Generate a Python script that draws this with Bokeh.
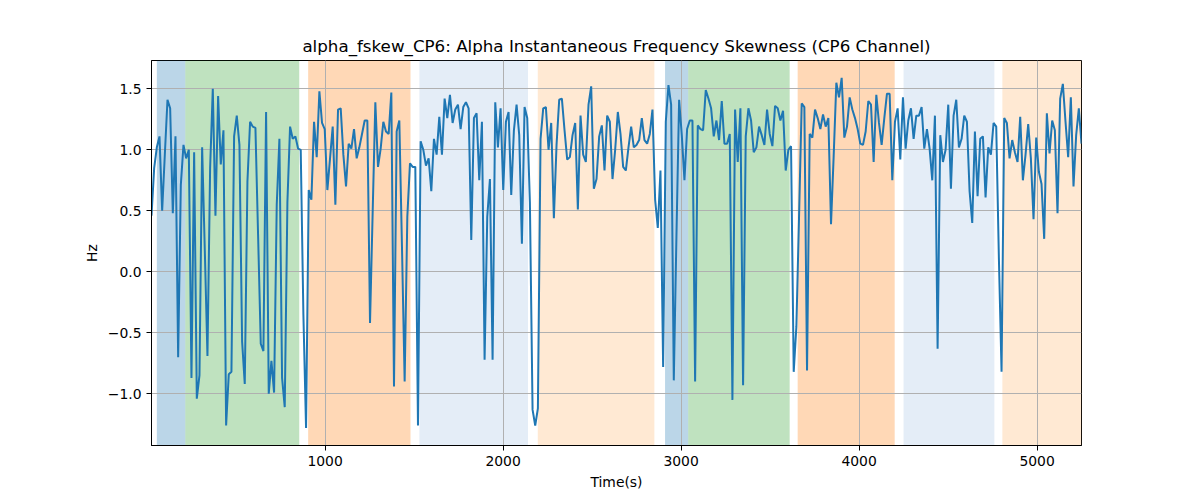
from bokeh.plotting import figure
from bokeh.models import BoxAnnotation, FixedTicker, Range1d, CustomJSTickFormatter
from bokeh.embed import file_html
from bokeh.resources import INLINE

# sampling of the time axis (seconds)
t_start = 25.0
t_step = 14.97

# alpha instantaneous frequency skewness, CP6 channel
fskew = [
    0.46, 0.85, 1.02, 1.11, 0.50, 0.96, 1.41, 1.34, 0.48, 1.11,
    -0.70, 0.71, 1.04, 0.93, 1.00, -0.87, 0.98, -1.04, -0.85, 1.02,
    0.18, -0.69, 0.85, 1.50, 0.46, 1.44, 0.88, 1.16, -1.26, -0.84,
    -0.82, 1.11, 1.28, 1.04, -0.57, -0.92, 0.74, 1.23, 1.19, 1.18,
    0.30, -0.59, -0.65, 1.31, -1.00, -0.73, -0.99, 0.55, 1.09, -0.87,
    -1.11, 0.57, 1.19, 1.09, 1.11, 1.01, 1.00, -0.35, -1.28, 0.67,
    0.59, 1.23, 0.94, 1.48, 1.22, 1.17, 0.67, 0.93, 1.19, 0.55,
    1.33, 1.34, 0.96, 0.70, 1.05, 1.01, 1.17, 0.93, 1.02, 1.13,
    1.24, 1.24, -0.42, 0.49, 1.39, 0.86, 1.01, 1.23, 1.15, 1.13,
    1.47, -0.94, 1.15, 1.24, 0.20, -0.90, 0.45, 0.89, 0.86, 0.86,
    -1.26, 1.07, 1.00, 0.87, 0.93, 0.66, 1.09, 0.96, 1.27, 0.96,
    1.42, 1.26, 1.45, 1.22, 1.33, 1.37, 1.17, 1.35, 1.39, 1.34,
    0.26, 1.26, 1.30, 0.75, 1.23, -0.72, 0.45, 0.76, -0.72, 1.39,
    1.02, 1.34, 0.67, 1.23, 1.31, 0.63, 1.16, 1.37, 1.12, 0.23,
    1.35, 1.26, 0.57, -1.13, -1.26, -1.12, 1.09, 1.34, 1.35, 1.00,
    1.22, 0.44, 1.04, 1.41, 1.42, 1.16, 0.92, 0.94, 1.12, 1.22,
    0.51, 1.28, 0.96, 0.90, 1.37, 1.52, 0.68, 0.76, 1.11, 1.20,
    0.83, 1.28, 1.23, 0.76, 1.00, 1.31, 1.13, 0.86, 0.83, 1.02,
    1.19, 1.02, 1.04, 1.08, 1.26, 1.08, 1.05, 1.13, 1.33, 0.59,
    0.36, 0.83, -0.78, 1.23, 1.53, 1.37, -0.89, 0.30, 1.41, 1.12,
    0.75, 1.17, 1.24, 1.24, -0.90, 1.20, 1.17, 1.16, 1.49, 1.42,
    1.34, 1.11, 1.24, 1.08, 1.40, 1.05, 1.05, 1.13, -1.05, 1.33,
    0.90, 1.34, -0.93, 1.11, 1.34, 1.24, 0.98, 1.02, 1.19, 1.12,
    1.04, 1.33, 1.13, 1.03, 1.36, 1.34, 1.24, 1.32, 0.83, 1.00,
    1.03, -0.82, -0.45, 0.45, 1.38, 1.35, -0.81, 1.13, 1.10, 1.33,
    1.26, 1.17, 1.29, 1.19, 1.26, 0.39, 0.95, 1.55, 1.43, 1.59,
    1.10, 1.19, 1.43, 1.33, 1.26, 1.17, 1.05, 1.04, 1.15, 1.40,
    1.37, 0.90, 1.45, 1.22, 1.04, 1.26, 1.46, 1.46, 0.75, 1.23,
    1.34, 0.92, 1.43, 1.01, 1.24, 1.34, 1.09, 1.28, 1.28, 1.35,
    1.01, 1.17, 1.01, 0.75, 1.28, -0.63, 1.12, 0.90, 1.00, 1.37,
    0.68, 1.28, 1.41, 1.02, 1.09, 1.28, 1.23, 0.66, 0.40, 1.15,
    0.62, 1.09, 1.11, 0.61, 1.02, 0.96, 1.22, 1.19, 0.11, -0.82,
    1.26, 1.22, 0.93, 1.08, 0.98, 0.90, 1.27, 0.75, 0.96, 1.21,
    0.93, 0.43, 1.10, 0.82, 0.72, 0.27, 1.30, 0.97, 1.24, 1.16,
    0.48, 1.42, 1.54, 1.23, 0.94, 1.43, 0.70, 1.12, 1.34, 1.05,
]
time_s = [t_start + t_step * i for i in range(len(fskew))]

# shaded segments
span_start = [55, 215, 905, 1530, 2195, 2910, 3040, 3655, 4250, 4805]
span_end = [215, 855, 1480, 2140, 2850, 3040, 3610, 4200, 4760, 5250]
span_kind = ["blue", "green", "orange", "lightblue", "lightorange",
             "blue", "green", "orange", "lightblue", "lightorange"]

x_ticks = [1000, 2000, 3000, 4000, 5000]
y_ticks = [-1.0, -0.5, 0.0, 0.5, 1.0, 1.5]

span_style = {
    "blue": ("#1f77b4", 0.3),
    "green": ("#2ca02c", 0.3),
    "orange": ("#ff7f0e", 0.3),
    "lightblue": ("#aec7e8", 0.33),
    "lightorange": ("#ffbb78", 0.33),
}

FONT = "DejaVu Sans"

p = figure(width=1200, height=500, output_backend="svg", toolbar_location=None,
           x_range=Range1d(time_s[0], time_s[-1]), y_range=Range1d(-1.424, 1.732),
           title="alpha_fskew_CP6: Alpha Instantaneous Frequency Skewness (CP6 Channel)",
           min_border_left=151, min_border_right=119, min_border_top=60, min_border_bottom=55)

for s, e, k in zip(span_start, span_end, span_kind):
    color, alpha = span_style[k]
    p.add_layout(BoxAnnotation(left=s, right=e, fill_color=color, fill_alpha=alpha,
                               line_color=None, level="image"))

p.line(time_s, fskew, line_color="#1f77b4", line_width=2)

p.title.text_font = FONT
p.title.text_font_size = "16.7px"
p.title.text_font_style = "normal"
p.title.align = "center"
p.title.text_color = "black"

p.xaxis.axis_label = "Time(s)"
p.yaxis.axis_label = "Hz"
p.xaxis.ticker = FixedTicker(ticks=x_ticks)
p.yaxis.ticker = FixedTicker(ticks=y_ticks)
p.yaxis.formatter = CustomJSTickFormatter(code="return tick.toFixed(1).replace('-', '\\u2212');")
for ax in (p.xaxis, p.yaxis):
    ax.axis_label_text_font = FONT
    ax.axis_label_text_font_size = "13.9px"
    ax.axis_label_text_font_style = "normal"
    ax.axis_label_text_color = "black"
    ax.major_label_text_font = FONT
    ax.major_label_text_font_size = "13.9px"
    ax.major_label_text_color = "black"
    ax.minor_tick_line_color = None
    ax.major_tick_in = 0
    ax.major_tick_out = 5
    ax.major_tick_line_color = "black"
    ax.axis_line_color = "black"

p.grid.grid_line_color = "#b0b0b0"
p.grid.grid_line_width = 1
p.outline_line_color = "black"
p.outline_line_alpha = 1
p.outline_line_width = 1

open("out.html", "w").write(file_html(p, INLINE))
